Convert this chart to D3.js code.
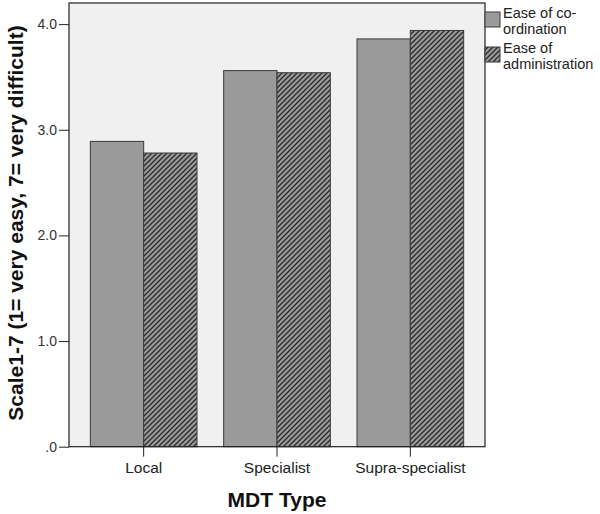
<!DOCTYPE html>
<html><head><meta charset="utf-8">
<script src="https://cdn.jsdelivr.net/npm/d3@7"></script>
<style>
body{margin:0;background:#fff;}
svg{display:block;font-family:"Liberation Sans",Arial,sans-serif;}
</style></head>
<body><svg id="c" width="600" height="514"></svg>
<script>
const categories = ["Local", "Specialist", "Supra-specialist"];
const seriesNames = ["Ease of co-ordination", "Ease of administration"];
const legendLines = [["Ease of co-", "ordination"], ["Ease of", "administration"]];
const coordination = [2.89, 3.56, 3.86];
const administration = [2.78, 3.54, 3.94];
const yTicks = [0, 1, 2, 3, 4];
const yTickLabels = [".0", "1.0", "2.0", "3.0", "4.0"];

const svg = d3.select("#c");
const L = 69, R = 485, T = 3, B = 446.7;

const defs = svg.append("defs");
const pat = defs.append("pattern").attr("id","hatch").attr("patternUnits","userSpaceOnUse")
  .attr("width",5).attr("height",5);
pat.append("rect").attr("width",5).attr("height",5).attr("fill","#9a9a9a");
pat.append("path").attr("d","M-1,1 L1,-1 M0,5 L5,0 M4,6 L6,4").attr("stroke","#2a2a2a").attr("stroke-width",1.3);

const x0 = d3.scaleBand().domain(categories).range([L,R]).paddingInner(0.2).paddingOuter(0.16);
const x1 = d3.scaleBand().domain(seriesNames).range([0,x0.bandwidth()]);
const y = d3.scaleLinear().domain([0,4.2]).range([B,T]);

svg.append("rect").attr("x",L).attr("y",T).attr("width",R-L).attr("height",B-T)
  .attr("fill","#f0f0f0");

const data = categories.map((c,i)=>({cat:c, vals:[coordination[i], administration[i]]}));
const fills = ["#9a9a9a","url(#hatch)"];
const g = svg.append("g");
data.forEach(d=>{
  d.vals.forEach((v,j)=>{
    g.append("rect")
      .attr("x", x0(d.cat)+x1(seriesNames[j]))
      .attr("y", y(v))
      .attr("width", x1.bandwidth())
      .attr("height", B - y(v))
      .attr("fill", fills[j])
      .attr("stroke","#3a3a3a").attr("stroke-width",1);
  });
});

svg.append("rect").attr("x",L).attr("y",T).attr("width",R-L).attr("height",B-T)
  .attr("fill","none").attr("stroke","#222").attr("stroke-width",1.2);

// y axis
const yAxis = d3.axisLeft(y).tickValues(yTicks).tickFormat((d,i)=>yTickLabels[i]).tickSize(10).tickPadding(2);
const ya = svg.append("g").attr("transform",`translate(${L},0)`).call(yAxis);
ya.select(".domain").remove();
ya.selectAll("line").attr("stroke","#222");
ya.selectAll("text").attr("font-size",14).attr("fill","#333").attr("font-family","Liberation Sans, Arial, sans-serif");

// x axis
const xAxis = d3.axisBottom(x0).tickSize(10).tickPadding(5);
const xa = svg.append("g").attr("transform",`translate(0,${B})`).call(xAxis);
xa.select(".domain").remove();
xa.selectAll("line").attr("stroke","#222");
xa.selectAll("text").attr("font-size",15.5).attr("fill","#222").attr("font-family","Liberation Sans, Arial, sans-serif");

// titles
svg.append("text").attr("x",(L+R)/2).attr("y",507).attr("text-anchor","middle")
  .attr("font-weight","bold").attr("font-size",21).attr("fill","#111").text("MDT Type");
svg.append("text").attr("transform",`translate(23,223) rotate(-90)`).attr("text-anchor","middle")
  .attr("font-weight","bold").attr("font-size",21).attr("fill","#111").text("Scale1-7 (1= very easy, 7= very difficult)");

// legend
const lg = svg.append("g");
legendLines.forEach((lines,i)=>{
  const yy = 12 + i*35;
  lg.append("rect").attr("x",R).attr("y",yy).attr("width",15).attr("height",15)
    .attr("fill",fills[i]).attr("stroke","#3a3a3a");
  lines.forEach((t,k)=>{
    lg.append("text").attr("x",503).attr("y",yy+5.5+k*16.5).attr("font-size",14.5).attr("fill","#222").text(t);
  });
});
</script></body></html>
